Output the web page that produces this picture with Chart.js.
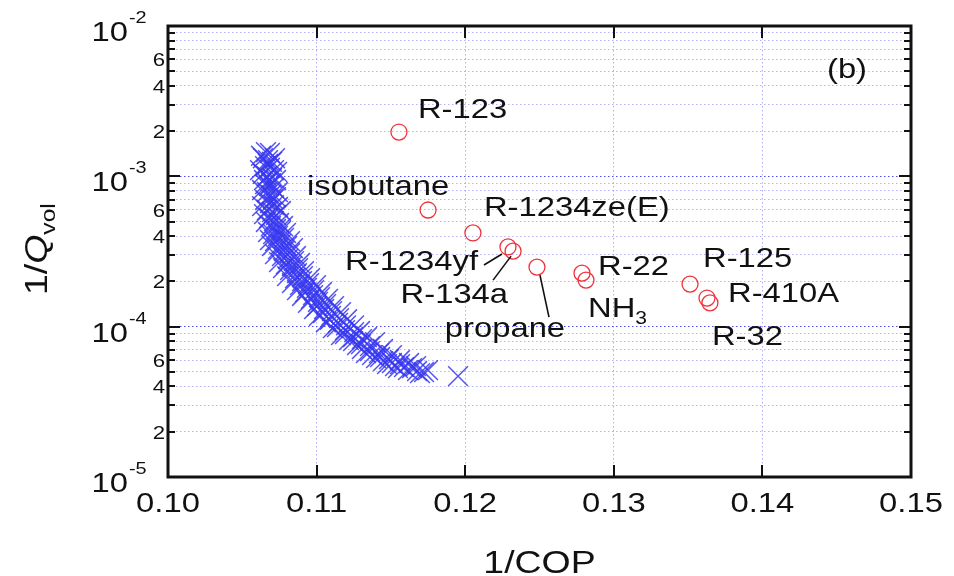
<!DOCTYPE html>
<html>
<head>
<meta charset="utf-8">
<title>1/Qvol vs 1/COP</title>
<script src="https://cdn.jsdelivr.net/npm/chart.js@4.4.0/dist/chart.umd.min.js"></script>
<style>
  html, body { margin: 0; padding: 0; background: #fff; }
  #wrap { width: 954px; height: 576px; }
</style>
</head>
<body>
<div id="wrap"><canvas id="copChart"></canvas></div>
<script>
// ---- data ----

// known refrigerants (open red circles)
const refNames = ['R-123', 'isobutane', 'R-1234ze(E)', 'R-1234yf', 'R-134a', 'propane',
                  'R-22', 'NH_3', 'R-125', 'R-410A', 'R-32'];
const refCop  = [0.11554, 0.11750, 0.12052, 0.12288, 0.12322, 0.12483,
                 0.12786, 0.12813, 0.13513, 0.13627, 0.13647];
const refQvol = [1.97e-3, 5.97e-4, 4.20e-4, 3.39e-4, 3.18e-4, 2.49e-4,
                 2.27e-4, 2.04e-4, 1.92e-4, 1.55e-4, 1.44e-4];

// candidate fluids (blue crosses)
const candCop = [
  0.10659, 0.10686, 0.10639, 0.10673, 0.10700, 0.10653, 0.10686, 0.10713, 0.10639, 0.10666,
  0.10700, 0.10727, 0.10653, 0.10680, 0.10713, 0.10666, 0.10693, 0.10727, 0.10653, 0.10686,
  0.10713, 0.10740, 0.10666, 0.10700, 0.10727, 0.10680, 0.10713, 0.10747, 0.10693, 0.10727,
  0.10760, 0.10707, 0.10740, 0.10781, 0.10720, 0.10760, 0.10801, 0.10740, 0.10781, 0.10821,
  0.10767, 0.10808, 0.10848, 0.10794, 0.10834, 0.10875, 0.10821, 0.10868, 0.10908, 0.10855,
  0.10902, 0.10949, 0.10888, 0.10935, 0.10983, 0.10922, 0.10976, 0.11023, 0.10962, 0.11009,
  0.11063, 0.11003, 0.11050, 0.11104, 0.11043, 0.11097, 0.11151, 0.11090, 0.11144, 0.11198,
  0.11137, 0.11191, 0.11252, 0.11191, 0.11245, 0.11305, 0.11245, 0.11299, 0.11359, 0.11305,
  0.11359, 0.11420, 0.11373, 0.11427, 0.11487, 0.11447, 0.11507, 0.11561, 0.11528, 0.11588,
  0.11642, 0.11615, 0.11676, 0.11723, 0.11696, 0.11952,
  0.10626, 0.10720, 0.10673, 0.10734, 0.10619, 0.10646, 0.10693, 0.10633, 0.10740, 0.10707,
  0.10633, 0.10760, 0.10646, 0.10659, 0.10774, 0.10673, 0.10794, 0.10686, 0.10821, 0.10700,
  0.10841, 0.10720, 0.10861, 0.10747, 0.10888, 0.10774, 0.10915, 0.10801, 0.10956, 0.10834,
  0.10996, 0.10868, 0.11036, 0.10902, 0.11077, 0.10942, 0.11117, 0.10983, 0.11164, 0.11016,
  0.11205, 0.11063, 0.11252, 0.11110, 0.11292, 0.11164, 0.11339, 0.11218, 0.11393, 0.11272,
  0.11447, 0.11332, 0.11507, 0.11400, 0.11561, 0.11474, 0.11622, 0.11548, 0.11669, 0.11750
];
const candQvol = [
  1.45e-3, 1.43e-3, 1.32e-3, 1.28e-3, 1.25e-3, 1.17e-3, 1.14e-3, 1.10e-3, 1.04e-3, 1.00e-3,
  9.74e-4, 9.45e-4, 8.89e-4, 8.62e-4, 8.36e-4, 7.86e-4, 7.51e-4, 7.28e-4, 6.96e-4, 6.64e-4,
  6.44e-4, 6.25e-4, 5.97e-4, 5.79e-4, 5.53e-4, 5.28e-4, 5.04e-4, 4.89e-4, 4.67e-4, 4.46e-4,
  4.33e-4, 4.13e-4, 4.01e-4, 3.89e-4, 3.71e-4, 3.54e-4, 3.44e-4, 3.28e-4, 3.18e-4, 3.09e-4,
  2.95e-4, 2.82e-4, 2.73e-4, 2.61e-4, 2.53e-4, 2.45e-4, 2.38e-4, 2.27e-4, 2.17e-4, 2.10e-4,
  2.01e-4, 1.95e-4, 1.89e-4, 1.81e-4, 1.75e-4, 1.70e-4, 1.62e-4, 1.57e-4, 1.53e-4, 1.46e-4,
  1.41e-4, 1.37e-4, 1.31e-4, 1.27e-4, 1.23e-4, 1.18e-4, 1.14e-4, 1.11e-4, 1.06e-4, 1.02e-4,
  9.94e-5, 9.49e-5, 9.20e-5, 8.93e-5, 8.53e-5, 8.27e-5, 8.02e-5, 7.66e-5, 7.43e-5, 7.10e-5,
  6.88e-5, 6.67e-5, 6.47e-5, 6.28e-5, 6.09e-5, 5.90e-5, 5.73e-5, 5.64e-5, 5.47e-5, 5.38e-5,
  5.30e-5, 5.14e-5, 5.07e-5, 4.99e-5, 4.91e-5, 4.69e-5,
  1.37e-3, 1.32e-3, 1.21e-3, 1.07e-3, 1.10e-3, 9.45e-4, 9.02e-4, 8.11e-4, 7.86e-4, 7.06e-4,
  6.34e-4, 5.88e-4, 5.61e-4, 4.97e-4, 4.67e-4, 4.26e-4, 4.20e-4, 3.77e-4, 3.71e-4, 3.44e-4,
  3.33e-4, 3.04e-4, 2.95e-4, 2.69e-4, 2.65e-4, 2.45e-4, 2.34e-4, 2.17e-4, 2.10e-4, 1.95e-4,
  1.89e-4, 1.75e-4, 1.70e-4, 1.60e-4, 1.53e-4, 1.44e-4, 1.37e-4, 1.31e-4, 1.25e-4, 1.18e-4,
  1.12e-4, 1.07e-4, 1.02e-4, 9.79e-5, 9.35e-5, 8.79e-5, 8.53e-5, 8.14e-5, 7.90e-5, 7.55e-5,
  7.10e-5, 6.67e-5, 6.47e-5, 6.18e-5, 6.00e-5, 5.64e-5, 5.73e-5, 5.30e-5, 5.47e-5, 5.14e-5
];

// axes
const xMin = 0.10, xMax = 0.15, xStep = 0.01;
const yMin = 1e-5, yMax = 1e-2;
const yTickMantissas = [1, 2, 3, 4, 5, 6, 7, 8, 9];
const yMinorLabels = [2, 4, 6];   // mantissas that get a label between decades
const xTitle = '1/COP';
const panelTag = '(b)';

// ---- layout / style ----

const FONT = '"Liberation Sans", Arial, Helvetica, sans-serif';
const STRETCH = 1.17;   // text in the figure is a bit wider than Arial

// label offset from its circle in px: [dx, dy(baseline), align]
const labelPos = [
  [19, -14, 'left'],
  [-121, -15, 'left'],
  [11, -17, 'left'],
  [-30, 23, 'right'],
  [-5, 52, 'right'],
  [-32, 70, 'center'],
  [16, 2, 'left'],
  [2, 37, 'left'],
  [13, -17, 'left'],
  [21, 4, 'left'],
  [2, 42, 'left']
];
// leader lines, offsets from circle: [x1, y1, x2, y2]
const leaders = {
  3: [-24, 18, -6, 7],
  4: [-20, 29, -2, 5],
  5: [12, 50, 3, 8]
};

function isDecade(v) {
  const e = Math.log10(v);
  return Math.abs(e - Math.round(e)) < 1e-6;
}

// draw text made of parts, parts with sub:true are drawn as subscripts
function drawRich(ctx, parts, x, y, align, size) {
  const subSize = Math.round(size * 0.66);
  let total = 0;
  parts.forEach(p => {
    ctx.font = `${p.italic ? 'italic ' : ''}${p.sub ? subSize : size}px ${FONT}`;
    p.w = ctx.measureText(p.t).width * STRETCH;
    total += p.w;
  });
  let cx = x;
  if (align === 'right') cx = x - total;
  else if (align === 'center') cx = x - total / 2;
  parts.forEach(p => {
    ctx.save();
    ctx.font = `${p.italic ? 'italic ' : ''}${p.sub ? subSize : size}px ${FONT}`;
    ctx.textAlign = 'left';
    ctx.textBaseline = 'alphabetic';
    ctx.translate(cx, y + (p.sub ? size * 0.25 : 0));
    ctx.scale(STRETCH, 1);
    ctx.fillText(p.t, 0, 0);
    ctx.restore();
    cx += p.w;
  });
}

function splitName(name) {
  const i = name.indexOf('_');
  if (i < 0) return [{ t: name }];
  return [{ t: name.slice(0, i) }, { t: name.slice(i + 1), sub: true }];
}

// frame, inward ticks, tick labels, titles and point names
const figureDecor = {
  id: 'figureDecor',
  afterDraw(chart) {
    const { ctx, chartArea: a, scales: { x, y } } = chart;
    ctx.save();
    ctx.strokeStyle = '#111';
    ctx.fillStyle = '#111';

    // tick marks
    ctx.lineWidth = 2;
    x.ticks.forEach(t => {
      const px = Math.round(x.getPixelForValue(t.value));
      if (px <= a.left + 1 || px >= a.right - 1) return;
      ctx.beginPath();
      ctx.moveTo(px, a.bottom); ctx.lineTo(px, a.bottom - 12);
      ctx.moveTo(px, a.top); ctx.lineTo(px, a.top + 12);
      ctx.stroke();
    });
    y.ticks.forEach(t => {
      const py = Math.round(y.getPixelForValue(t.value));
      const len = isDecade(t.value) ? 12 : 7;
      ctx.beginPath();
      ctx.moveTo(a.left, py); ctx.lineTo(a.left + len, py);
      ctx.moveTo(a.right, py); ctx.lineTo(a.right - len, py);
      ctx.stroke();
    });

    // frame
    ctx.lineWidth = 3;
    ctx.strokeRect(a.left, a.top, a.right - a.left, a.bottom - a.top);

    // x tick labels
    x.ticks.forEach(t => {
      const px = x.getPixelForValue(t.value);
      drawRich(ctx, [{ t: t.value.toFixed(2) }], px, a.bottom + 35, 'center', 28);
    });

    // y tick labels: 10^n at decades, a few mantissas in between
    y.ticks.forEach(t => {
      const py = y.getPixelForValue(t.value);
      const e = Math.floor(Math.log10(t.value) + 1e-9);
      const m = Math.round(t.value / Math.pow(10, e));
      if (isDecade(t.value)) {
        drawRich(ctx, [{ t: '10' }], a.left - 40, py + 15, 'right', 28);
        drawRich(ctx, [{ t: String(e) }], a.left - 39, py - 3, 'left', 17);
      } else if (yMinorLabels.includes(m)) {
        drawRich(ctx, [{ t: String(m) }], a.left - 3, py + 7, 'right', 19);
      }
    });

    // axis titles
    drawRich(ctx, [{ t: xTitle }], (a.left + a.right) / 2, 573, 'center', 32);
    ctx.save();
    ctx.translate(47, 295);
    ctx.rotate(-Math.PI / 2);
    drawRich(ctx, [{ t: '1/' }, { t: 'Q', italic: true }, { t: 'vol', sub: true }], 0, 0, 'left', 32);
    ctx.restore();

    // panel tag
    drawRich(ctx, [{ t: panelTag }], a.right - 64, a.top + 52, 'center', 28);

    // refrigerant names and leader lines
    ctx.lineWidth = 1.6;
    refNames.forEach((name, i) => {
      const cx = x.getPixelForValue(refCop[i]);
      const cy = y.getPixelForValue(refQvol[i]);
      const [dx, dy, align] = labelPos[i];
      drawRich(ctx, splitName(name), cx + dx, cy + dy, align, 28);
      const l = leaders[i];
      if (l) {
        ctx.beginPath();
        ctx.moveTo(cx + l[0], cy + l[1]);
        ctx.lineTo(cx + l[2], cy + l[3]);
        ctx.stroke();
      }
    });
    ctx.restore();
  }
};

const gridDash = [1.5, 2.5];

new Chart(document.getElementById('copChart'), {
  type: 'scatter',
  data: {
    datasets: [
      {
        label: 'candidates',
        data: candCop.map((c, i) => ({ x: c, y: candQvol[i] })),
        pointStyle: 'crossRot',
        pointRadius: 14,
        borderColor: 'rgba(55, 55, 240, 0.85)',
        backgroundColor: 'rgba(0, 0, 0, 0)',
        borderWidth: 1.5
      },
      {
        label: 'refrigerants',
        data: refCop.map((c, i) => ({ x: c, y: refQvol[i] })),
        pointStyle: 'circle',
        pointRadius: 8,
        borderColor: 'rgb(240, 50, 60)',
        backgroundColor: 'rgba(0, 0, 0, 0)',
        borderWidth: 1.3
      }
    ]
  },
  options: {
    responsive: true,
    maintainAspectRatio: false,
    animation: false,
    layout: { padding: { left: 168, top: 26, right: 43, bottom: 99 } },
    plugins: {
      legend: { display: false },
      tooltip: { enabled: false }
    },
    scales: {
      x: {
        type: 'linear',
        min: xMin,
        max: xMax,
        ticks: { display: false, stepSize: xStep },
        grid: {
          drawTicks: false,
          lineWidth: 1,
          color: c => {
            const v = c.tick ? c.tick.value : xMin;
            return (v > xMin + 1e-6 && v < xMax - 1e-6) ? 'rgba(120, 120, 230, 0.6)' : 'rgba(0,0,0,0)';
          }
        },
        border: { display: false, dash: gridDash }
      },
      y: {
        type: 'logarithmic',
        min: yMin,
        max: yMax,
        ticks: { display: false, autoSkip: false },
        // one tick for every mantissa of every decade
        afterBuildTicks: scale => {
          const ticks = [];
          const e0 = Math.round(Math.log10(yMin)), e1 = Math.round(Math.log10(yMax));
          for (let e = e0; e < e1; e++) {
            yTickMantissas.forEach(m => ticks.push({ value: m * Math.pow(10, e) }));
          }
          ticks.push({ value: yMax });
          scale.ticks = ticks;
        },
        grid: {
          drawTicks: false,
          lineWidth: 1,
          color: c => {
            const v = c.tick ? c.tick.value : yMin;
            if (v <= yMin * 1.0001 || v >= yMax * 0.9999) return 'rgba(0,0,0,0)';
            return isDecade(v) ? 'rgba(60, 60, 230, 0.9)' : 'rgba(120, 120, 235, 0.55)';
          }
        },
        border: { display: false, dash: gridDash }
      }
    }
  },
  plugins: [figureDecor]
});
</script>
</body>
</html>
